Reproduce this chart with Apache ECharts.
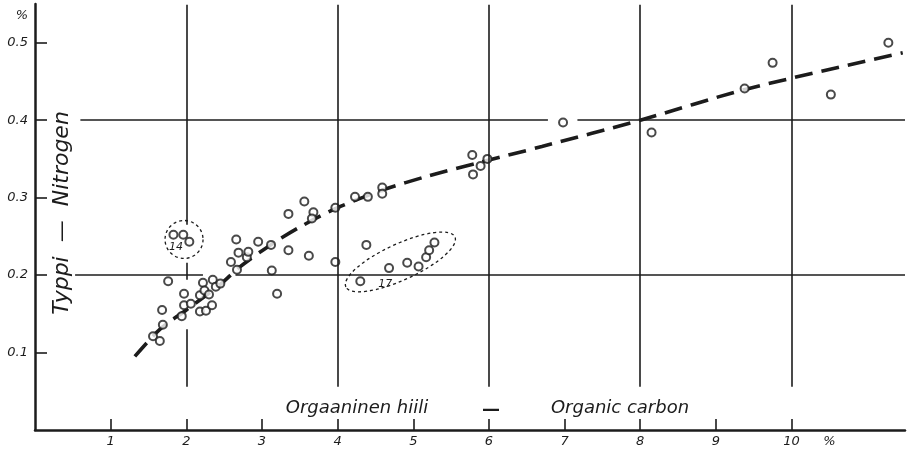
<!DOCTYPE html>
<html>
<head>
<meta charset="utf-8">
<script src="https://cdn.jsdelivr.net/npm/echarts@6/dist/echarts.min.js"></script>
<style>html,body{margin:0;padding:0;background:#fff}#c{width:913px;height:452px}</style>
</head>
<body>
<div id="c"></div>
<script>
// ---- data (organic carbon %, nitrogen %) ----
const carbonPts = [1.56,1.65,1.68,1.69,1.76,1.94,1.97,1.97,2.06,2.18,2.22,2.24,2.30,2.18,2.26,2.34,2.35,2.39,2.45,
  1.83,1.96,2.04,
  2.59,2.67,2.66,2.69,2.80,2.82,2.95,3.12,3.13,3.20,3.35,3.35,3.56,3.62,3.68,3.66,
  3.97,3.97,4.23,4.40,4.59,4.59,4.38,4.30,4.68,4.92,5.07,5.17,5.21,5.28,
  5.78,5.89,5.79,5.98,6.98,8.15,9.38,9.75,10.52,11.28];
const nitrogenPts = [0.121,0.115,0.155,0.136,0.192,0.147,0.176,0.161,0.163,0.174,0.190,0.180,0.175,0.153,0.154,0.161,0.194,0.185,0.189,
  0.252,0.252,0.243,
  0.217,0.207,0.246,0.229,0.223,0.230,0.243,0.239,0.206,0.176,0.232,0.279,0.295,0.225,0.281,0.273,
  0.217,0.287,0.301,0.301,0.313,0.305,0.239,0.192,0.209,0.216,0.211,0.223,0.232,0.242,
  0.355,0.341,0.330,0.350,0.397,0.384,0.441,0.474,0.433,0.500];
const curveX = [1.32,1.65,2.0,2.45,2.7,3.1,3.5,4.0,4.6,5.2,5.9,6.7,8.0,9.4,11.47];
const curveY = [0.095,0.13,0.155,0.188,0.21,0.238,0.262,0.287,0.31,0.328,0.346,0.366,0.40,0.44,0.487];
const xTickVals = [1,2,3,4,5,6,7,8,9,10];
const yTickVals = [0.1,0.2,0.3,0.4,0.5];
// grid segments: [x, yFrom, yTo] and [y, xFrom, xTo]
const vGrid = [[2,0.265,0.549],[2,0.194,0.216],[2,0.056,0.13],[4,0.056,0.549],[6,0.056,0.549],[8,0.056,0.549],[10,0.056,0.549]];
const hGrid = [[0.2,0.53,2.22],[0.2,2.65,11.5],[0.4,0.6,6.78],[0.4,7.17,11.5]];
// annotations
const groupLabels = ['14','17'];
const groupLabelPos = [[1.865,0.2355],[4.63,0.188]];
const groupCenters = [[1.97,0.246],[4.83,0.217]];

const ink = '#1c1c1c';
const fam = '"DejaVu Sans", sans-serif';
const chart = echarts.init(document.getElementById('c'));

const pts = carbonPts.map((c,i)=>[c,nitrogenPts[i]]);
const curve = curveX.map((c,i)=>[c,curveY[i]]);
const mlData = vGrid.map(g=>[{coord:[g[0],g[1]]},{coord:[g[0],g[2]]}])
  .concat(hGrid.map(g=>[{coord:[g[1],g[0]]},{coord:[g[2],g[0]]}]));

chart.setOption({
  backgroundColor:'#fff',
  animation:false,
  grid:{left:35,right:8,top:4,bottom:22,containLabel:false},
  xAxis:{type:'value',min:0,max:11.5,interval:1,
    axisLine:{lineStyle:{color:ink,width:2.5}},
    axisTick:{show:true,inside:true,length:11,customValues:xTickVals,lineStyle:{color:ink,width:1.6}},
    axisLabel:{customValues:xTickVals.concat([10.5]),formatter:v=>v===10.5?'%':String(v),
      color:ink,fontStyle:'italic',fontSize:13,fontFamily:fam,margin:5},
    splitLine:{show:false}},
  yAxis:{type:'value',min:0,max:0.55,interval:0.1,
    axisLine:{show:true,lineStyle:{color:ink,width:2.5}},
    axisTick:{show:true,inside:true,length:12,customValues:yTickVals,lineStyle:{color:ink,width:1.6}},
    axisLabel:{customValues:yTickVals.concat([0.535]),formatter:v=>v===0.535?'%':v.toFixed(1),
      color:ink,fontStyle:'italic',fontSize:13,fontFamily:fam,margin:7},
    splitLine:{show:false}},
  series:[
    {type:'line',data:[],silent:true,
      markLine:{silent:true,symbol:['none','none'],label:{show:false},
        lineStyle:{color:ink,width:1.6,type:'solid'},data:mlData},z:1},
    {type:'line',data:curve,smooth:0.3,symbol:'none',
      lineStyle:{color:ink,width:3.6,type:[18,9],cap:'butt'},z:2},
    {type:'scatter',data:pts,symbol:'circle',symbolSize:8,
      itemStyle:{color:'#fff',borderColor:ink,borderWidth:2},z:3}
  ]
});

const px = p=>chart.convertToPixel({gridIndex:0},p);
const gfx = [];
groupLabels.forEach((t,i)=>{
  const p = px(groupLabelPos[i]);
  gfx.push({type:'text',x:p[0],y:p[1],z:10,style:{text:t,font:'italic 11px '+fam,fill:ink,align:'center',verticalAlign:'middle',textAlign:'center',textVerticalAlign:'middle'}});
});
const c0 = px(groupCenters[0]);
gfx.push({type:'circle',x:c0[0],y:c0[1],z:10,shape:{cx:0,cy:0,r:19},style:{fill:null,stroke:ink,lineWidth:1.3,lineDash:[3,3]}});
const c1 = px(groupCenters[1]);
gfx.push({type:'ellipse',x:c1[0],y:c1[1],rotation:0.43,z:10,shape:{cx:0,cy:0,rx:60,ry:18},style:{fill:null,stroke:ink,lineWidth:1.3,lineDash:[3,3]}});
// axis titles
gfx.push({type:'text',x:62,y:213,rotation:Math.PI/2,z:10,style:{text:'Typpi  —  Nitrogen',font:'italic 22px '+fam,fill:ink,align:'center',verticalAlign:'middle',textAlign:'center',textVerticalAlign:'middle'}});
const tY = 408;
gfx.push({type:'text',x:357,y:tY,z:10,style:{text:'Orgaaninen hiili',font:'italic 18px '+fam,fill:ink,align:'center',verticalAlign:'middle',textAlign:'center',textVerticalAlign:'middle'}});
gfx.push({type:'text',x:491,y:tY+2,z:10,style:{text:'—',font:'bold 18px '+fam,fill:ink,align:'center',verticalAlign:'middle',textAlign:'center',textVerticalAlign:'middle'}});
gfx.push({type:'text',x:620,y:tY,z:10,style:{text:'Organic carbon',font:'italic 18px '+fam,fill:ink,align:'center',verticalAlign:'middle',textAlign:'center',textVerticalAlign:'middle'}});
chart.setOption({graphic:{elements:gfx}});
</script>
</body>
</html>
